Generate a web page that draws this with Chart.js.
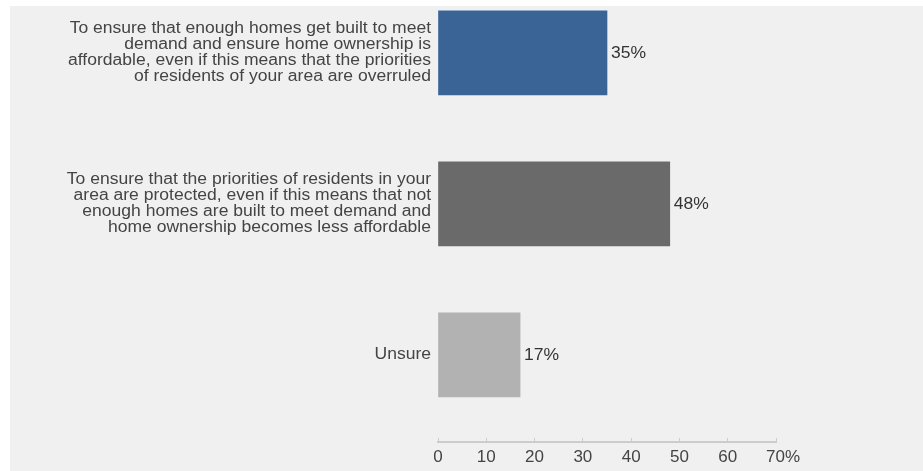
<!DOCTYPE html>
<html>
<head>
<meta charset="utf-8">
<script src="https://cdn.jsdelivr.net/npm/chart.js@4"></script>
<style>
  html, body { margin: 0; padding: 0; background: #ffffff; }
  #wrap { position: absolute; left: 10px; top: 6px; width: 913px; height: 465px; background: #f0f0f0; }
  canvas { display: block; }
</style>
</head>
<body>
<div id="wrap"><canvas id="chart" width="913" height="465"></canvas></div>
<script>
// ==============================
// Data
// ==============================
const categories = [
  ["To ensure that enough homes get built to meet", "demand and ensure home ownership is", "affordable, even if this means that the priorities", "of residents of your area are overruled"],
  ["To ensure that the priorities of residents in your", "area are protected, even if this means that not", "enough homes are built to meet demand and", "home ownership becomes less affordable"],
  ["Unsure"]
];
const values = [35, 48, 17];
const barColors = ["#3b6496", "#6a6a6a", "#b2b2b2"];
const xTicks = [0, 10, 20, 30, 40, 50, 60, 70];

const FONT = "'Liberation Sans', Arial, sans-serif";
const STRETCH = 1.095; // tekst in het origineel is iets breder

// Percent labels next to each bar
const valueLabels = {
  id: "valueLabels",
  afterDatasetsDraw(chart) {
    const ctx = chart.ctx;
    const meta = chart.getDatasetMeta(0);
    ctx.save();
    ctx.font = "16px " + FONT;
    ctx.fillStyle = "#333";
    ctx.textAlign = "left";
    ctx.textBaseline = "middle";
    meta.data.forEach((bar, i) => {
      ctx.save();
      ctx.translate(bar.x + 4, bar.y + 1);
      ctx.scale(STRETCH, 1);
      ctx.fillText(values[i] + "%", 0, 0);
      ctx.restore();
    });
    ctx.restore();
  },
};

new Chart(document.getElementById("chart"), {
  type: "bar",
  data: {
    datasets: [
      {
        data: values.map((v, i) => ({ x: v, y: i })),
        backgroundColor: barColors,
        borderWidth: 0,
        barThickness: 84,
      },
    ],
  },
  options: {
    indexAxis: "y",
    responsive: false,
    animation: false,
    devicePixelRatio: 1,
    layout: { padding: { left: 0, right: 147, top: 0, bottom: 0 } },
    plugins: { legend: { display: false }, tooltip: { enabled: false } },
    scales: {
      y: {
        type: "linear",
        reverse: true,
        offset: false,
        min: -0.3106,
        max: 2.5768,
        afterBuildTicks: (scale) => {
          scale.ticks = categories.map((_, i) => ({ value: i }));
        },
        afterFit: (scale) => {
          scale.width = 428;
          scale.paddingTop = 0;
          scale.paddingBottom = 0;
          // labels horizontaal oprekken rond hun rechterkant
          if (!scale._stretched) {
            const drawLabels = scale.drawLabels.bind(scale);
            scale.drawLabels = (area) => {
              const ctx = scale.ctx;
              const ax = scale.right - 7;
              ctx.save();
              ctx.translate(ax, 0);
              ctx.scale(STRETCH, 1);
              ctx.translate(-ax, 0);
              drawLabels(area);
              ctx.restore();
            };
            scale._stretched = true;
          }
        },
        ticks: {
          callback: (v) => categories[v],
          color: "#444",
          padding: 7,
          autoSkip: false,
          font: { family: FONT, size: 16, lineHeight: 1.0 },
        },
        grid: { display: false, drawTicks: false },
        border: { display: false },
      },
      x: {
        type: "linear",
        min: 0,
        max: 70,
        afterBuildTicks: (scale) => {
          scale.ticks = xTicks.map((v) => ({ value: v }));
        },
        afterFit: (scale) => {
          scale.height = 29;
          scale.paddingLeft = 0;
          scale.paddingRight = 0;
        },
        ticks: {
          callback: (v) => (v === 70 ? "   " + v + "%" : String(v)),
          color: "#444",
          padding: 9,
          autoSkip: false,
          maxRotation: 0,
          font: { family: FONT, size: 17 },
        },
        grid: { display: true, drawOnChartArea: false, drawTicks: true, tickLength: -4, color: "#cccccc", lineWidth: 1 },
        border: { display: true, color: "#cccccc", width: 2 },
      },
    },
  },
  plugins: [valueLabels],
});
</script>
</body>
</html>
